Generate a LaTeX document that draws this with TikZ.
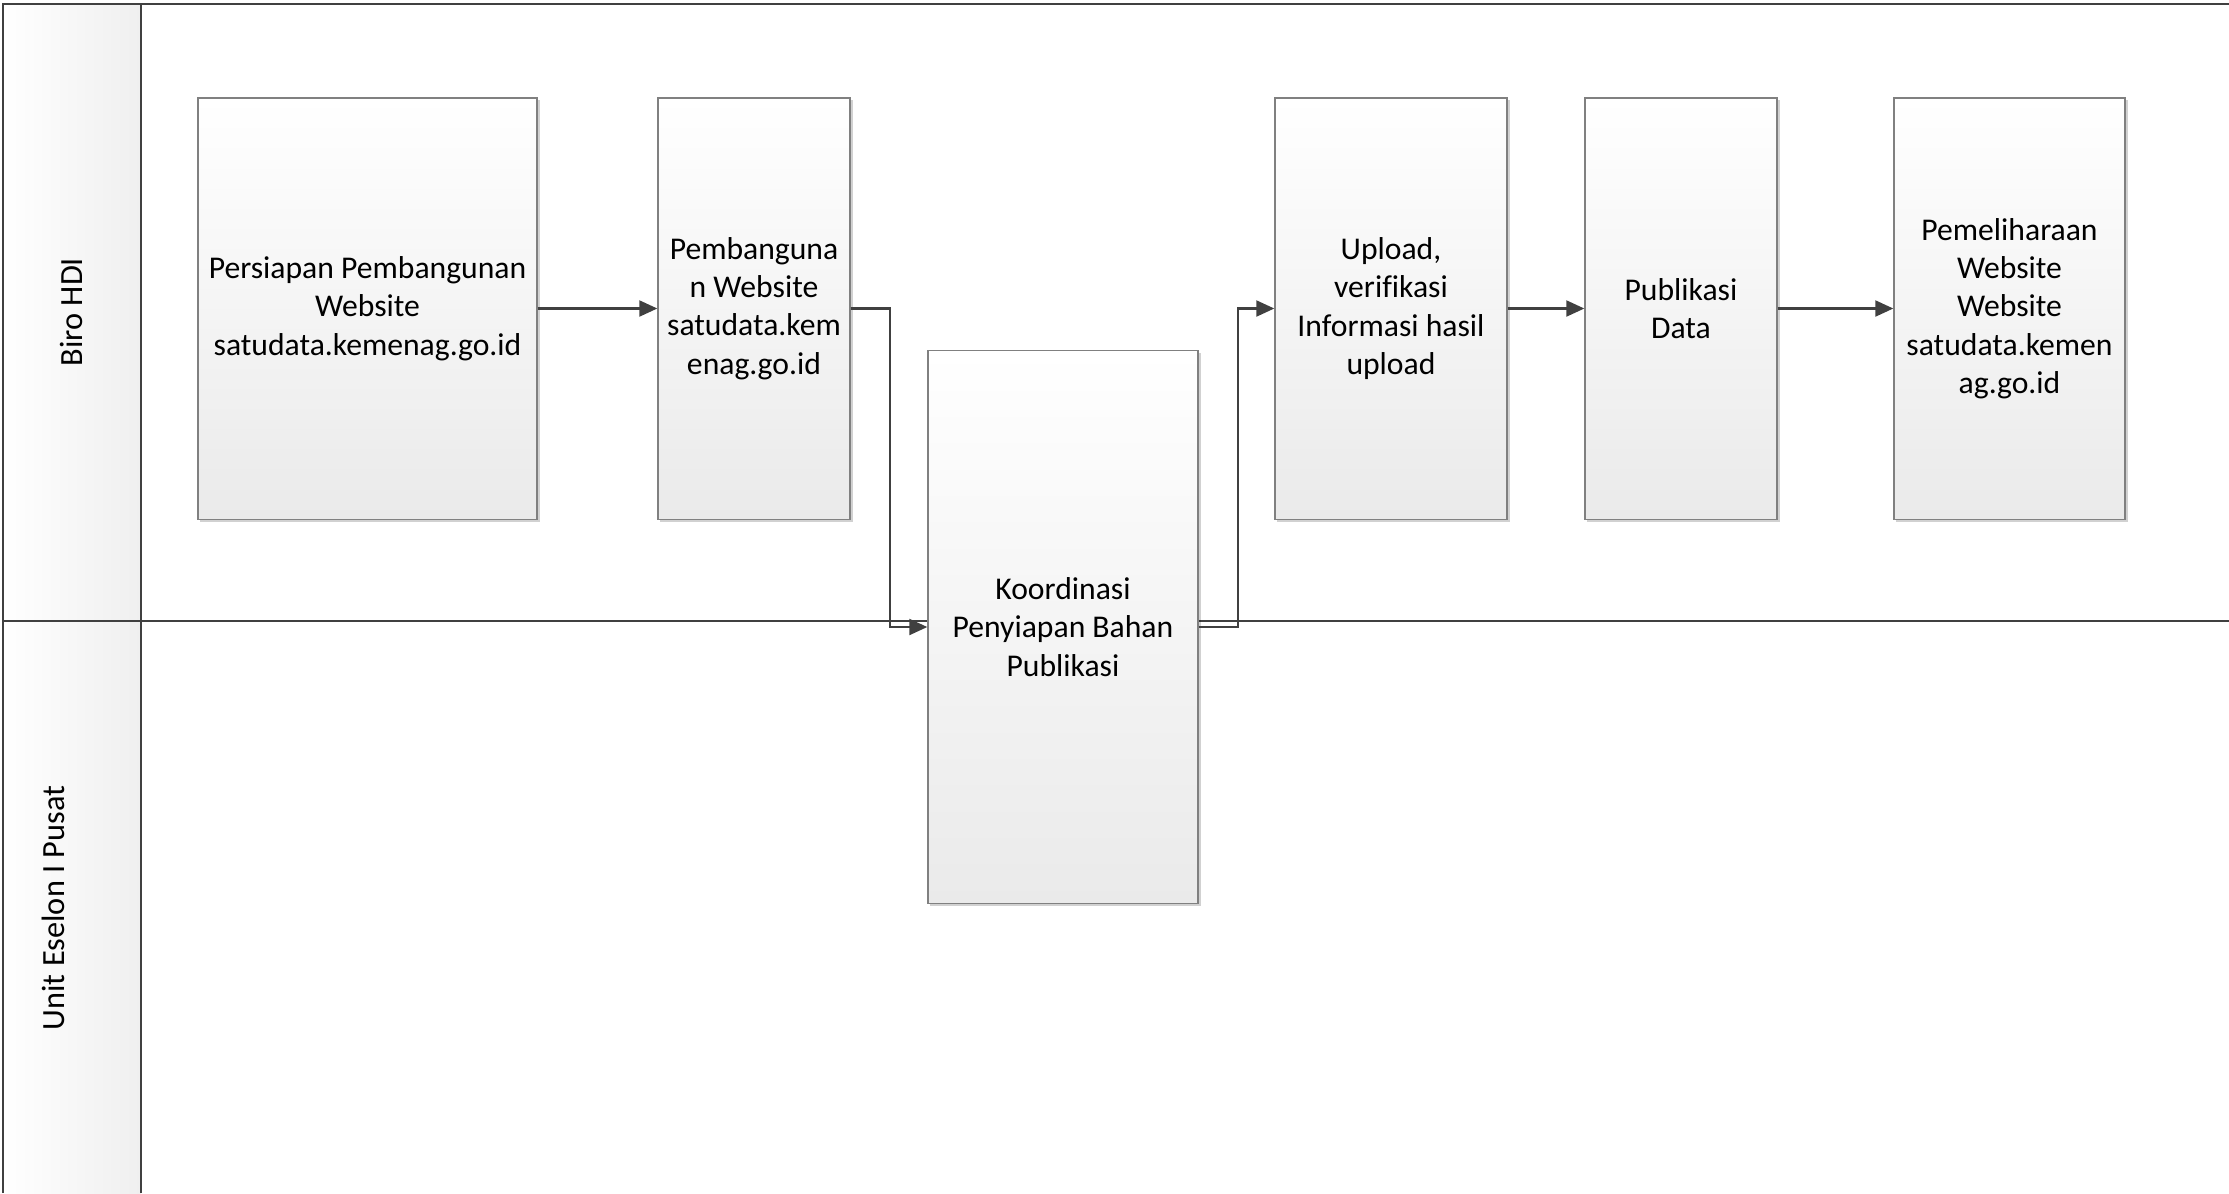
\documentclass[tikz,border=0pt]{standalone}
\usepackage{fontspec}
\setmainfont{Carlito}[Ligatures=NoCommon]
\usetikzlibrary{arrows.meta,shadows,calc}
\definecolor{lanecol}{HTML}{404040}
\definecolor{boxline}{HTML}{808080}
\definecolor{boxbot}{HTML}{EAEAEA}
\definecolor{headgray}{HTML}{EFEFEF}
\begin{document}
\begin{tikzpicture}[x=0.01cm,y=-0.01cm,
  box/.style={draw=boxline, line width=0.35pt, rectangle, top color=white, bottom color=boxbot,
    drop shadow={shadow xshift=0.025cm, shadow yshift=-0.025cm, fill=black, opacity=0.18},
    align=center, inner sep=2pt, font=\fontsize{9}{10.9}\selectfont},
  arr/.style={draw=lanecol, line width=0.6pt, -{Triangle[length=0.18cm,width=0.16cm]}},
  lane/.style={draw=lanecol, line width=0.6pt},
  lanelabel/.style={rotate=90, font=\fontsize{9.2}{11}\selectfont}]
\useasboundingbox (0,0) rectangle (2229,1193);
% header column
\shade[left color=white, right color=headgray] (3,4) rectangle (141,1193);
% lane lines
\draw[lane] (3,1193) -- (3,4) -- (2229,4);
\draw[lane] (141,4) -- (141,1193);
\draw[lane] (3,621) -- (2229,621);
% lane labels
\node[lanelabel] (l1) at (71,312) {Biro HDI};
\node[lanelabel] (l2) at (53,908) {Unit Eselon I Pusat};
% boxes
\node[box, minimum width=3.39cm, minimum height=4.21cm] (b1) at (367.5,308.5)
  {Persiapan Pembangunan\\Website\\satudata.kemenag.go.id};
\node[box, minimum width=1.92cm, minimum height=4.21cm] (b2) at (754,308.5)
  {Pembanguna\\n Website\\satudata.kem\\enag.go.id};
\node[box, minimum width=2.70cm, minimum height=5.52cm] (b3) at (1063,627)
  {Koordinasi\\Penyiapan Bahan\\Publikasi};
\node[box, minimum width=2.32cm, minimum height=4.21cm] (b4) at (1391,308.5)
  {Upload,\\verifikasi\\Informasi hasil\\upload};
\node[box, minimum width=1.92cm, minimum height=4.21cm] (b5) at (1681,308.5)
  {Publikasi\\Data};
\node[box, minimum width=2.31cm, minimum height=4.21cm] (b6) at (2009.5,308.5)
  {Pemeliharaan\\Website\\Website\\satudata.kemen\\ag.go.id};
% connectors
\draw[arr] (b1.east) -- (b2.west);
\draw[arr] (b2.east) -- ([xshift=0.39cm]b2.east) |- (b3.west);
\draw[arr] (b3.east) -- ([xshift=0.39cm]b3.east) |- (b4.west);
\draw[arr] (b4.east) -- (b5.west);
\draw[arr] (b5.east) -- (b6.west);
\end{tikzpicture}
\end{document}
